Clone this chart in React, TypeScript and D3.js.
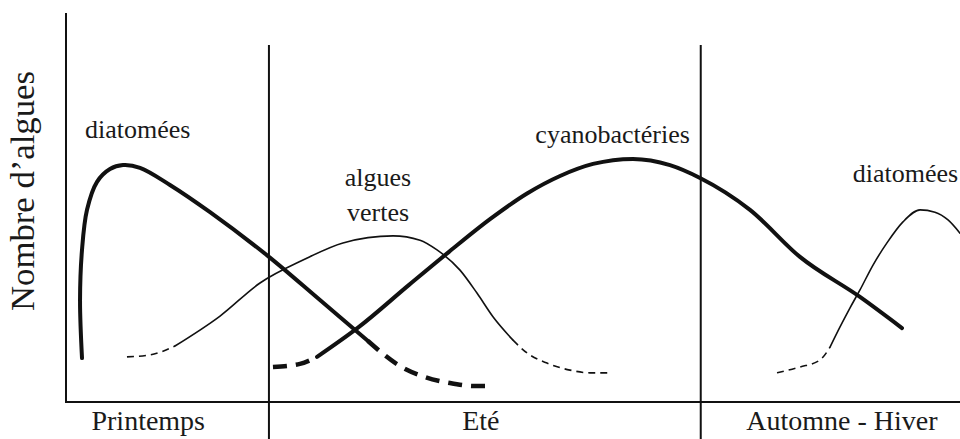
import React from "react";
import * as d3 from "d3";

const WIDTH = 960;
const HEIGHT = 439;
const MARGIN = { top: 13, right: 0, bottom: 37, left: 66 };

// time along the year (0-100) and relative abundance (0-100)
const seasonBounds = [22.7, 71.0];
const seasonNames = ["Printemps", "Eté", "Automne - Hiver"];
const seasonLabelX = [9.2, 46.4, 86.8];

const diatomSpringX = [1.79, 1.57, 1.79, 2.35, 3.47, 4.92, 6.38, 8.28, 11.63, 16.11, 22.6, 28.41, 33.78];
const diatomSpringY = [11.3, 26.2, 39.1, 49.4, 56.6, 59.9, 60.9, 60.2, 55.8, 48.8, 37.5, 26.2, 15.7];
const diatomSpringTailX = [33.78, 37.36, 40.16, 42.95, 45.75, 47.43];
const diatomSpringTailY = [15.7, 9.25, 6.43, 4.88, 4.11, 4.11];

const greenHeadX = [6.82, 9.4, 12.19];
const greenHeadY = [11.6, 12.1, 14.4];
const greenX = [12.19, 17.23, 21.7, 26.51, 30.98, 36.58, 39.6, 41.5, 44.07, 45.97, 47.76, 50.0];
const greenY = [14.4, 22.1, 30.6, 36.5, 40.9, 42.7, 41.6, 39.1, 33.9, 28.0, 21.9, 15.9];
const greenTailX = [50.0, 51.57, 53.8, 56.38, 58.61, 60.63];
const greenTailY = [15.9, 12.6, 10.0, 8.2, 7.5, 7.5];

const cyanoHeadX = [23.15, 26.17, 28.08];
const cyanoHeadY = [9.0, 9.8, 11.6];
const cyanoX = [28.08, 32.77, 38.37, 42.84, 47.43, 51.57, 55.26, 58.95, 63.42, 67.56, 70.92, 76.51, 82.1, 88.81, 93.51];
const cyanoY = [11.6, 19.3, 30.1, 38.6, 47.0, 53.6, 58.1, 61.2, 62.5, 60.9, 57.6, 49.4, 37.3, 27.0, 19.0];

const diatomAutumnHeadX = [79.53, 82.1, 84.34, 85.46];
const diatomAutumnHeadY = [7.5, 9.0, 10.8, 14.1];
const diatomAutumnX = [85.46, 86.58, 87.7, 88.81, 90.27, 91.83, 93.62, 95.53, 97.2, 98.66, 100.0];
const diatomAutumnY = [14.1, 19.3, 24.2, 28.8, 35.2, 40.9, 46.3, 49.4, 48.8, 46.8, 43.4];

const labelText = ["diatomées", "algues", "vertes", "cyanobactéries", "diatomées"];
const labelX = [2.13, 34.9, 34.9, 52.5, 88.0];
const labelY = [67.9, 55.5, 46.5, 66.6, 56.6];
const labelAnchor = ["start", "middle", "middle", "start", "start"];

const zip = (xs: number[], ys: number[]) => xs.map((x, i) => [x, ys[i]] as [number, number]);

const FONT = "Liberation Serif";
const INK = "#111";

export default function App() {
  const boundsWidth = WIDTH - MARGIN.left - MARGIN.right;
  const boundsHeight = HEIGHT - MARGIN.top - MARGIN.bottom;

  const xScale = d3.scaleLinear().domain([0, 100]).range([MARGIN.left, MARGIN.left + boundsWidth]);
  const yScale = d3.scaleLinear().domain([0, 100]).range([MARGIN.top + boundsHeight, MARGIN.top]);

  // the spring diatom curve doubles back in x, so it can't use monotoneX
  const catmull = d3
    .line<[number, number]>()
    .x((d) => xScale(d[0]))
    .y((d) => yScale(d[1]))
    .curve(d3.curveCatmullRom.alpha(0.5));
  const mono = d3
    .line<[number, number]>()
    .x((d) => xScale(d[0]))
    .y((d) => yScale(d[1]))
    .curve(d3.curveMonotoneX);

  const curves = [
    { d: catmull(zip(diatomSpringX, diatomSpringY)), w: 4, dash: undefined },
    { d: mono(zip(diatomSpringTailX, diatomSpringTailY)), w: 4.5, dash: "14,9" },
    { d: mono(zip(greenHeadX, greenHeadY)), w: 1.6, dash: "7,5" },
    { d: mono(zip(greenX, greenY)), w: 1.6, dash: undefined },
    { d: mono(zip(greenTailX, greenTailY)), w: 1.6, dash: "7,5" },
    { d: mono(zip(cyanoHeadX, cyanoHeadY)), w: 4.5, dash: "14,9" },
    { d: mono(zip(cyanoX, cyanoY)), w: 4, dash: undefined },
    { d: mono(zip(diatomAutumnHeadX, diatomAutumnHeadY)), w: 1.6, dash: "7,5" },
    { d: mono(zip(diatomAutumnX, diatomAutumnY)), w: 1.6, dash: undefined },
  ];

  const baseY = yScale(0);

  return (
    <svg width={WIDTH} height={HEIGHT} style={{ position: "absolute", left: 0, top: 0 }}>
      {/* axes */}
      <line x1={xScale(0)} x2={xScale(0)} y1={yScale(100)} y2={baseY + 1} stroke={INK} strokeWidth={2} />
      <line x1={xScale(0)} x2={WIDTH} y1={baseY} y2={baseY} stroke={INK} strokeWidth={2} />

      {/* season separators */}
      {seasonBounds.map((b, i) => (
        <line key={i} x1={xScale(b)} x2={xScale(b)} y1={45} y2={HEIGHT} stroke={INK} strokeWidth={2} />
      ))}

      {/* curves */}
      {curves.map((c, i) => (
        <path
          key={i}
          d={c.d || ""}
          fill="none"
          stroke={INK}
          strokeWidth={c.w}
          strokeDasharray={c.dash}
          strokeLinecap={c.dash ? "butt" : "round"}
          strokeLinejoin="round"
        />
      ))}

      {/* curve labels */}
      {labelText.map((t, i) => (
        <text
          key={i}
          x={xScale(labelX[i])}
          y={yScale(labelY[i])}
          textAnchor={labelAnchor[i]}
          fontSize={26}
          fill="#1a1a1a"
          style={{ fontFamily: FONT }}
        >
          {t}
        </text>
      ))}

      {/* season labels */}
      {seasonNames.map((s, i) => (
        <text
          key={s}
          x={xScale(seasonLabelX[i])}
          y={430}
          textAnchor="middle"
          fontSize={28}
          fill="#1a1a1a"
          style={{ fontFamily: FONT }}
        >
          {s}
        </text>
      ))}

      {/* y label */}
      <text
        transform={`translate(34,191) rotate(-90)`}
        textAnchor="middle"
        fontSize={33}
        textLength={240}
        lengthAdjust="spacingAndGlyphs"
        fill="#1a1a1a"
        style={{ fontFamily: FONT }}
      >
        Nombre d’algues
      </text>
    </svg>
  );
}
